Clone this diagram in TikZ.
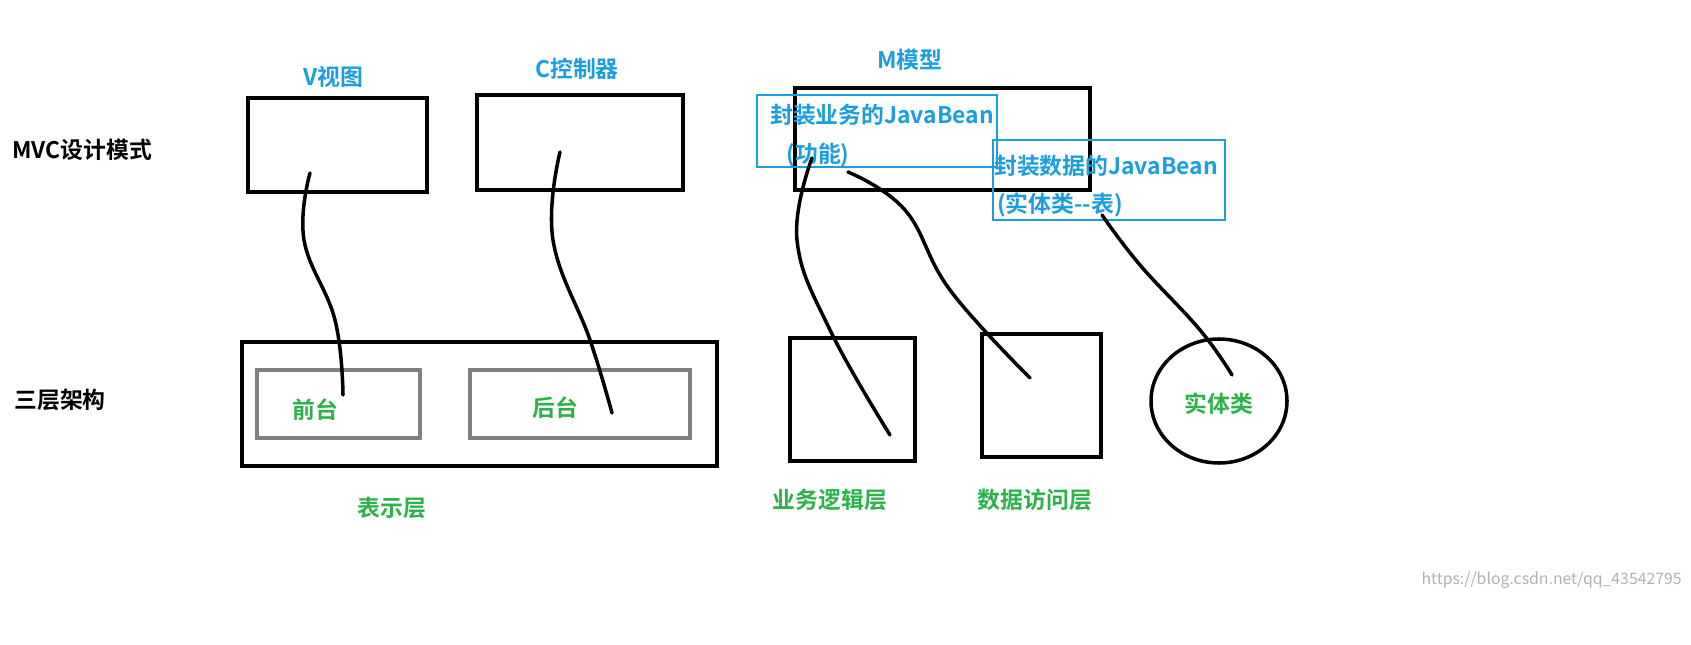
\documentclass[tikz,border=0pt]{standalone}
\usepackage{fontspec}
\setmainfont{Noto Sans CJK SC}[BoldFont={Noto Sans CJK SC Bold}]
\begin{document}
\begin{tikzpicture}[x=0.02cm,y=-0.02cm,
  lab/.style={font=\bfseries\fontsize{13}{15}\selectfont,inner sep=0pt},
  blue/.style={lab,text=mblue},
  green/.style={lab,text=mgreen},
  blk/.style={lab,text=black},
  bx/.style={draw=black,line width=2pt},
  gbx/.style={draw=gray,line width=2pt},
  bbx/.style={draw=mblue,line width=1.3pt},
  wire/.style={draw=black,line width=2pt,line cap=round}]
\definecolor{mblue}{HTML}{1A9EE0}
\definecolor{mgreen}{HTML}{2BB34A}
\useasboundingbox[fill=white] (0,0) rectangle (1691,645);
\node[blk] (mvc) at (82,150) {MVC设计模式};
\node[blk] (three) at (60,400) {三层架构};
\node[blue] (vl) at (333,77) {V视图};
\node[blue] (cl) at (577,69) {C控制器};
\node[blue] (ml) at (910,60) {M模型};
\draw[bx] (248,98) rectangle (427,192);
\draw[bx] (477,95) rectangle (683,190);
\draw[bx] (795,88) rectangle (1090,190);
\draw[bbx] (757,95) rectangle (997,167);
\node[blue] (jb1) at (882,115) {封装业务的JavaBean};
\node[blue] (gn) at (818,155) {(功能)};
\draw[bbx] (993,140) rectangle (1225,220);
\node[blue] (jb2) at (1106,166) {封装数据的JavaBean};
\node[blue] (st) at (1060,205) {(实体类{-}{-}表)};
\draw[bx] (242,342) rectangle (717,466);
\draw[gbx] (257,370) rectangle (420,438);
\draw[gbx] (470,370) rectangle (690,438);
\node[green] (qt) at (315,410) {前台};
\node[green] (ht) at (555,408) {后台};
\draw[bx] (790,338) rectangle (915,461);
\draw[bx] (982,334) rectangle (1101,457);
\draw[bx] (1219,401) ellipse [x radius=68,y radius=62];
\node[green] (stl) at (1219,404) {实体类};
\node[green] (bsc) at (392,508) {表示层};
\node[green] (ywl) at (830,500) {业务逻辑层};
\node[green] (sjl) at (1035,500) {数据访问层};
\node[font=\fontsize{9}{10}\selectfont,text=gray!60,anchor=east,inner sep=0pt] (wm) at (1682,580) {https://blog.csdn.net/qq\_43542795};
\draw[wire] plot[smooth,tension=0.7] coordinates {(310,173) (304,240) (335,320) (343,395)};
\draw[wire] plot[smooth,tension=0.7] coordinates {(560,152) (553,240) (590,340) (612,413)};
\draw[wire] plot[smooth,tension=0.7] coordinates {(812,158) (797,240) (830,330) (890,435)};
\draw[wire] plot[smooth,tension=0.7] coordinates {(848,172) (905,210) (950,290) (1030,378)};
\draw[wire] plot[smooth,tension=0.7] coordinates {(1102,215) (1140,265) (1200,330) (1232,375)};
\end{tikzpicture}
\end{document}
